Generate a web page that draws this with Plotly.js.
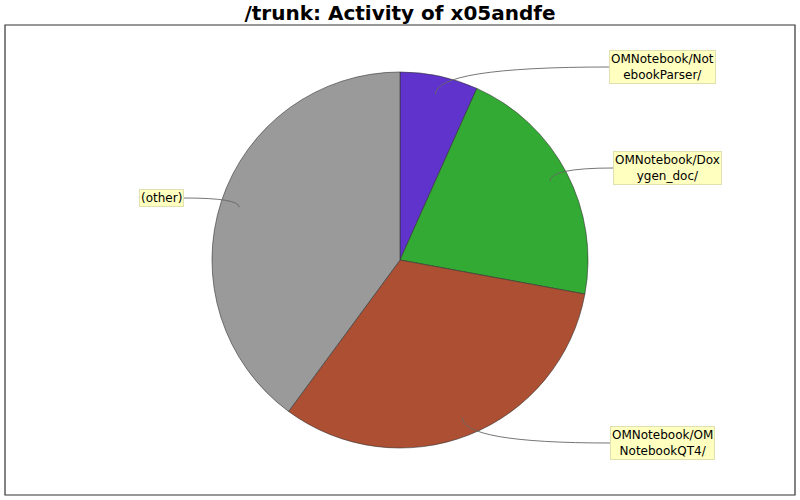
<!DOCTYPE html>
<html>
<head>
<meta charset="utf-8">
<script src="https://cdn.plot.ly/plotly-3.0.1.min.js"></script>
<style>html,body{margin:0;padding:0;background:#fff;}#chart{width:800px;height:500px;}</style>
</head>
<body>
<div id="chart"></div>
<script>
// Data
var categories = ["OMNotebook/NotebookParser/", "OMNotebook/Doxygen_doc/", "OMNotebook/OMNotebookQT4/", "(other)"];
var labelTexts = ["OMNotebook/Not<br>ebookParser/", "OMNotebook/Dox<br>ygen_doc/", "OMNotebook/OM<br>NotebookQT4/", "(other)"];
var values = [6.7, 21.2, 32.2, 39.9];
var colors = ["#5f33cc", "#33aa33", "#ad4f33", "#9a9a9a"];

// Layout geometry (pixels)
var W = 800, H = 500;
var M = {l: 5, r: 5, t: 25, b: 5};
var PW = W - M.l - M.r, PH = H - M.t - M.b;
var domY = [0.1, 0.9];
function px2x(px) { return (px - M.l) / PW; }
function py2y(py) { return (H - M.b - py) / PH; }
var cx = M.l + PW / 2;
var cy = H - M.b - PH * (domY[0] + domY[1]) / 2;
var R = PH * (domY[1] - domY[0]) / 2;

// label box placement (pixels): edge x, center y, side
var labelPos = [
  {x: 609, y: 67, side: "left"},
  {x: 613, y: 168, side: "left"},
  {x: 610, y: 443, side: "left"},
  {x: 184, y: 198, side: "right"}
];

var total = values.reduce(function(a, b) { return a + b; }, 0);
var shapes = [{
  type: "rect", xref: "paper", yref: "paper", x0: 0, y0: 0, x1: 1, y1: 1,
  line: {color: "#333333", width: 1.2}
}];
var annotations = [];
var cum = 0;
for (var i = 0; i < values.length; i++) {
  var mid = (cum + values[i] / 2) / total * 2 * Math.PI;
  cum += values[i];
  var ax = cx + 0.9 * R * Math.sin(mid);
  var ay = cy - 0.9 * R * Math.cos(mid);
  var lp = labelPos[i];
  var path = "M " + px2x(lp.x) + "," + py2y(lp.y) +
             " Q " + px2x(ax) + "," + py2y(lp.y) +
             " " + px2x(ax) + "," + py2y(ay);
  shapes.push({type: "path", xref: "paper", yref: "paper", path: path,
               line: {color: "#666666", width: 0.9}});
  annotations.push({
    xref: "paper", yref: "paper", x: px2x(lp.x), y: py2y(lp.y),
    xanchor: lp.side, yanchor: "middle", showarrow: false,
    text: labelTexts[i], align: "center",
    font: {family: "DejaVu Sans", size: 12, color: "#000"},
    bgcolor: "#ffffc0", bordercolor: "#e0e0b0", borderwidth: 1, borderpad: 1
  });
}

var trace = {
  type: "pie",
  labels: categories,
  values: values,
  sort: false,
  direction: "clockwise",
  rotation: 0,
  textinfo: "none",
  hoverinfo: "none",
  showlegend: false,
  marker: {colors: colors, line: {color: "#333333", width: 0.6}},
  domain: {x: [0, 1], y: domY}
};

var layout = {
  width: W, height: H,
  margin: M,
  paper_bgcolor: "#ffffff", plot_bgcolor: "#ffffff",
  title: {
    text: "<b>/trunk: Activity of x05andfe</b>",
    font: {family: "DejaVu Sans", size: 20, color: "#000"},
    x: 0.5, xanchor: "center", y: 0.975, yanchor: "middle", xref: "paper"
  },
  shapes: shapes,
  annotations: annotations
};

Plotly.newPlot("chart", [trace], layout, {staticPlot: true, displayModeBar: false});
</script>
</body>
</html>
